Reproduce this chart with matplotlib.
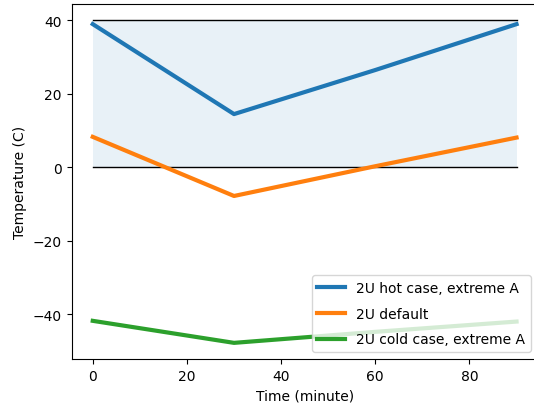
import numpy as np
import matplotlib
matplotlib.use('Agg')
import matplotlib.pyplot as plt

# Time points (minutes)
t = [0, 30, 60, 90]

# Temperatures (C)
hot = [39, 14.5, 26.5, 39]
default = [8.3, -7.8, 0.3, 8.1]
cold = [-41.8, -47.8, -44.8, -42]

# Allowed range band
band_t = [0, 90]
band_low = [0, 0]
band_high = [40, 40]

fig = plt.figure(figsize=(5.34, 4.10), dpi=100)
ax = fig.add_axes([0.134, 0.122, 0.873, 0.865])

ax.fill_between(band_t, band_low, band_high, color='tab:blue', alpha=0.1, linewidth=0)
ax.plot(band_t, band_low, 'k-', linewidth=1)
ax.plot(band_t, band_high, 'k-', linewidth=1)

ax.plot(t, hot, color='tab:blue', linewidth=3, label='2U hot case, extreme A')
ax.plot(t, default, color='tab:orange', linewidth=3, label='2U default')
ax.plot(t, cold, color='tab:green', linewidth=3, label='2U cold case, extreme A')

ax.set_xlabel('Time (minute)')
ax.set_ylabel('Temperature (C)')
ax.legend(loc='lower right', labelspacing=0.85)

fig.savefig('out.png', dpi=100)
